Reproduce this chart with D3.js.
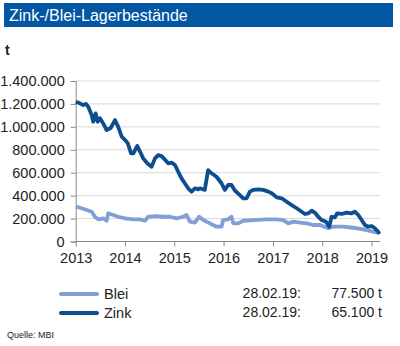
<!DOCTYPE html>
<html>
<head>
<meta charset="utf-8">
<script src="https://cdn.jsdelivr.net/npm/d3@7"></script>
<style>
  body { margin: 0; background: #fff; }
  svg { font-family: "Liberation Sans", Arial, sans-serif; }
</style>
</head>
<body>
<div id="chart_area"></div>
<script>
// data (values in tonnes)
const zinkDates = ['2013-01-02','2013-02-01','2013-02-26','2013-03-18','2013-04-04','2013-04-29','2013-05-11','2013-05-29','2013-06-13','2013-06-30','2013-07-24','2013-08-18','2013-09-17','2013-10-19','2013-11-12','2013-12-08','2014-01-02','2014-01-22','2014-02-15','2014-03-04','2014-04-02','2014-04-22','2014-05-16','2014-06-15','2014-07-17','2014-08-11','2014-09-04','2014-09-29','2014-10-23','2014-11-17','2014-12-12','2015-01-06','2015-01-30','2015-02-24','2015-03-20','2015-04-14','2015-05-09','2015-06-03','2015-06-27','2015-07-09','2015-08-15','2015-09-09','2015-10-04','2015-11-10','2015-12-17','2016-01-11','2016-02-04','2016-02-29','2016-03-25','2016-05-01','2016-05-26','2016-06-20','2016-07-14','2016-08-08','2016-09-14','2016-10-21','2016-11-27','2016-12-23','2017-01-29','2017-03-07','2017-04-13','2017-05-20','2017-06-26','2017-08-02','2017-08-26','2017-09-20','2017-10-15','2017-11-08','2017-12-02','2017-12-28','2018-01-29','2018-02-22','2018-03-11','2018-04-05','2018-04-22','2018-05-25','2018-07-01','2018-08-07','2018-08-31','2018-09-25','2018-10-20','2018-11-13','2018-12-07','2019-01-02','2019-01-26','2019-02-20','2019-02-28'];
const zinkValues = [1220000,1205000,1190000,1200000,1175000,1103000,1045000,1118000,1045000,1074000,1030000,972000,990000,1059000,1000000,914000,885000,856000,769000,769000,833000,785000,725000,682000,652000,725000,754000,745000,716000,682000,688000,667000,609000,551000,508000,464000,434000,464000,455000,464000,450000,623000,595000,565000,508000,450000,493000,493000,445000,405000,377000,377000,435000,450000,455000,450000,435000,421000,385000,377000,347000,318000,290000,260000,240000,246000,268000,252000,216000,187000,173000,129000,216000,210000,246000,240000,252000,246000,260000,231000,187000,144000,129000,135000,115000,85000,65100];

const bleiDates = ['2013-01-02','2013-02-14','2013-03-23','2013-04-29','2013-05-23','2013-06-17','2013-07-24','2013-08-18','2013-08-30','2013-10-06','2013-11-12','2014-01-02','2014-03-04','2014-04-22','2014-05-29','2014-06-22','2014-08-23','2014-10-11','2014-11-30','2015-01-19','2015-03-08','2015-04-02','2015-04-27','2015-06-03','2015-07-04','2015-08-04','2015-09-22','2015-11-10','2015-12-17','2015-12-29','2016-02-04','2016-02-29','2016-03-13','2016-04-19','2016-05-26','2016-08-08','2016-11-15','2017-01-29','2017-03-18','2017-04-25','2017-06-01','2017-07-20','2017-09-08','2017-10-27','2017-12-15','2018-02-15','2018-03-23','2018-06-07','2018-08-18','2018-11-01','2019-01-14','2019-02-28'];
const bleiValues = [305000,290000,275000,260000,216000,193000,202000,181000,246000,231000,216000,202000,193000,193000,181000,216000,222000,216000,216000,202000,216000,231000,173000,164000,216000,187000,158000,129000,129000,187000,193000,216000,158000,158000,181000,187000,193000,193000,187000,158000,173000,164000,158000,144000,144000,115000,129000,129000,120000,106000,85000,77500];

const yTicks = [0, 200000, 400000, 600000, 800000, 1000000, 1200000, 1400000];
const xTicks = [2013, 2014, 2015, 2016, 2017, 2018, 2019];

const legendNames = ['Blei', 'Zink'];
const legendDates = ['28.02.19:', '28.02.19:'];
const legendValues = ['77.500 t', '65.100 t'];
const colors = { Blei: '#7f9fd5', Zink: '#0b4f91' };

const parse = d3.timeParse('%Y-%m-%d');
const zink = zinkDates.map((d, i) => ({ date: parse(d), value: zinkValues[i] }));
const blei = bleiDates.map((d, i) => ({ date: parse(d), value: bleiValues[i] }));

const svg = d3.select('#chart_area').append('svg')
  .attr('width', 400)
  .attr('height', 346);

// title bar
svg.append('rect')
  .attr('x', 4).attr('y', 3).attr('width', 389).attr('height', 24)
  .attr('fill', '#0256a2');
svg.append('text')
  .attr('x', 9).attr('y', 21)
  .attr('fill', '#fff')
  .attr('font-size', 16)
  .text('Zink-/Blei-Lagerbestände');

svg.append('text')
  .attr('x', 5).attr('y', 55)
  .attr('font-size', 14).attr('font-weight', 'bold')
  .attr('fill', '#222')
  .text('t');

// scales
const x = d3.scaleTime()
  .domain([new Date(2013, 0, 1), new Date(2019, 0, 1)])
  .range([75.7, 371.5]);
const y = d3.scaleLinear().domain([0, 1400000]).range([241.5, 81]);
const xEnd = 380;

// gridlines
svg.append('g').selectAll('line')
  .data(yTicks.filter(d => d > 0))
  .join('line')
  .attr('x1', x.range()[0]).attr('x2', xEnd)
  .attr('y1', d => y(d)).attr('y2', d => y(d))
  .attr('stroke', '#d9d9d9').attr('stroke-width', 1);

// y axis
const fmt = d3.formatLocale({ decimal: ',', thousands: '.', grouping: [3], currency: ['', ''] }).format(',');
const yAxis = svg.append('g')
  .attr('transform', 'translate(' + x.range()[0] + ',0)')
  .call(d3.axisLeft(y).tickValues(yTicks).tickFormat(fmt).tickSize(5).tickPadding(6));
yAxis.select('.domain').attr('stroke', '#888');
yAxis.selectAll('.tick line').attr('stroke', '#888');
yAxis.selectAll('text').attr('font-size', 14.5).attr('fill', '#222')
  .attr('font-family', '"Liberation Sans", Arial, sans-serif');

// x axis
const xAxis = svg.append('g')
  .attr('transform', 'translate(0,' + y(0) + ')')
  .call(d3.axisBottom(x).tickValues(xTicks.map(t => new Date(t, 0, 1)))
    .tickFormat(d3.timeFormat('%Y')).tickSize(5).tickSizeOuter(0).tickPadding(6));
xAxis.select('.domain').attr('stroke', '#888').attr('d', 'M' + x.range()[0] + ',0H' + xEnd);
xAxis.selectAll('.tick line').attr('stroke', '#888');
xAxis.selectAll('text').attr('font-size', 14.5).attr('fill', '#222')
  .attr('font-family', '"Liberation Sans", Arial, sans-serif');

// lines
const line = d3.line().x(d => x(d.date)).y(d => y(d.value));
svg.append('path').datum(blei)
  .attr('fill', 'none').attr('stroke', colors.Blei)
  .attr('stroke-width', 3.8).attr('stroke-linejoin', 'round')
  .attr('d', line);
svg.append('path').datum(zink)
  .attr('fill', 'none').attr('stroke', colors.Zink)
  .attr('stroke-width', 3.8).attr('stroke-linejoin', 'round')
  .attr('d', line);

// legend
const legend = svg.append('g');
legendNames.forEach((name, i) => {
  const ly = 294 + i * 19;
  legend.append('line')
    .attr('x1', 61).attr('x2', 97).attr('y1', ly).attr('y2', ly)
    .attr('stroke', colors[name]).attr('stroke-width', 4).attr('stroke-linecap', 'round');
  legend.append('text')
    .attr('x', 104).attr('y', ly + 5)
    .attr('font-size', 14.5).attr('fill', '#222')
    .text(name);
  legend.append('text')
    .attr('x', 301).attr('y', ly + 4).attr('text-anchor', 'end')
    .attr('font-size', 14).attr('fill', '#222')
    .text(legendDates[i]);
  legend.append('text')
    .attr('x', 382).attr('y', ly + 4).attr('text-anchor', 'end')
    .attr('font-size', 14).attr('fill', '#222')
    .text(legendValues[i]);
});

svg.append('text')
  .attr('x', 7).attr('y', 338)
  .attr('font-size', 9).attr('fill', '#222')
  .text('Quelle: MBI');
</script>
</body>
</html>
